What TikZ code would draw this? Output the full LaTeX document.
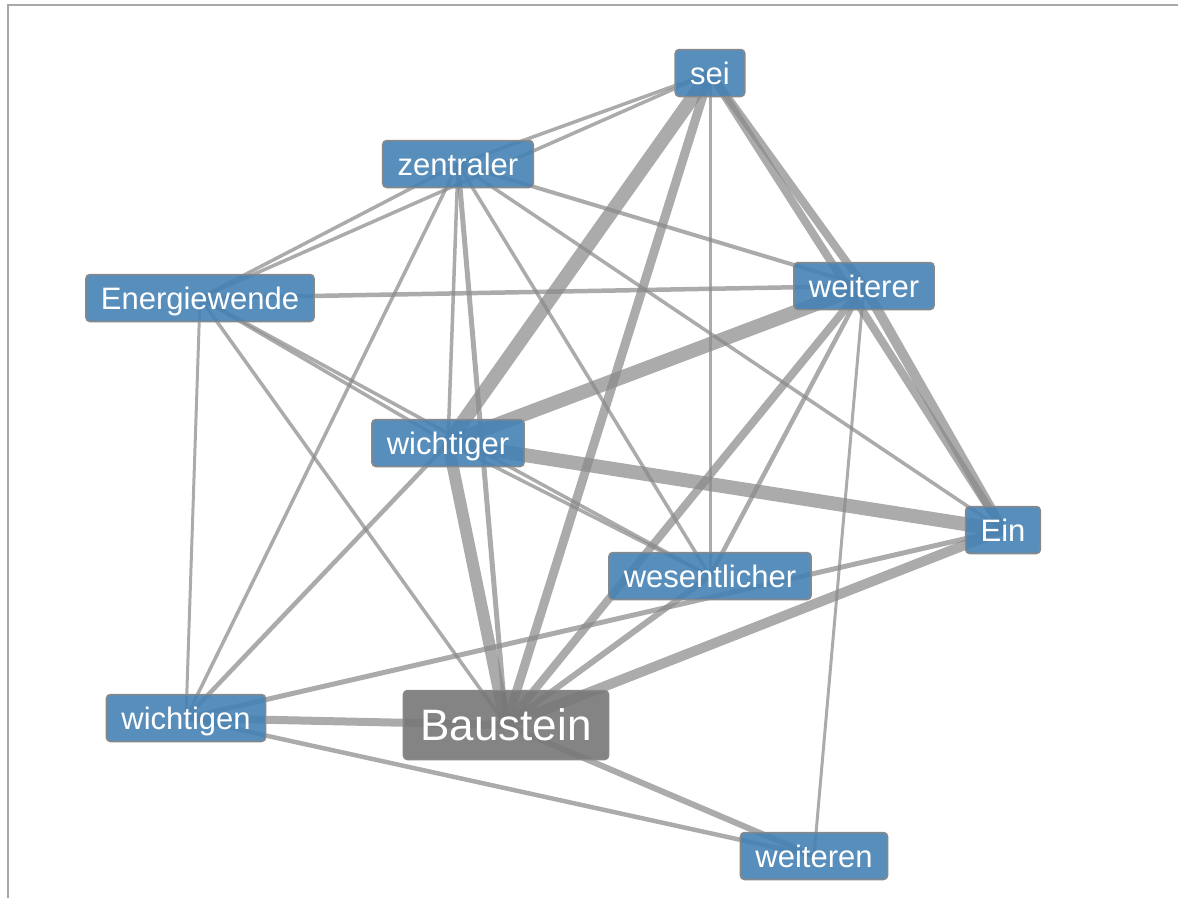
\documentclass[tikz,border=0pt]{standalone}
\usepackage{fontspec}
\setmainfont{Liberation Sans}
\usepackage{tikz}
\usetikzlibrary{backgrounds}
\definecolor{wordblue}   {RGB}{70,  130, 180}
\definecolor{wordgray}   {RGB}{119, 119, 119}
\definecolor{linkgray}   {RGB}{136, 136, 136}
\definecolor{framegray}  {RGB}{168, 168, 168}

\begin{document}
\begin{tikzpicture}[x=1pt,y=-1pt,
	word/.style={draw=linkgray,line width=1.5pt,fill=wordblue,fill opacity=0.9,text opacity=1,
		text=white,rounded corners=4pt,inner xsep=15pt,inner ysep=0pt,minimum height=47pt,
		text height=22pt,text depth=0pt,font=\fontsize{31}{36}\selectfont},
	hub/.style={word,fill=wordgray,inner xsep=17pt,minimum height=69pt,text height=31pt,
		font=\fontsize{44}{50}\selectfont},
	link/.style={draw=linkgray,draw opacity=0.7}]
	\useasboundingbox (0,0) rectangle (1178,898);
	\draw[framegray,line width=2pt] (7.5,898) -- (7.5,5) -- (1178,5);
	\node[word] (sei) at (710,73) {sei};
	\node[word] (zentraler) at (458,164) {zentraler};
	\node[word] (energiewende) at (200,298) {Energiewende};
	\node[word] (weiterer) at (864,286) {weiterer};
	\node[word] (wichtiger) at (448,443) {wichtiger};
	\node[word] (ein) at (1003,530) {Ein};
	\node[word] (wesentlicher) at (710,576) {wesentlicher};
	\node[word] (wichtigen) at (186,718) {wichtigen};
	\node[hub] (baustein) at (506,725) {Baustein};
	\node[word] (weiteren) at (814,856) {weiteren};
	\begin{scope}[on background layer]
		\foreach \a/\b/\w in {sei/zentraler/3.5, sei/energiewende/3.5, sei/wichtiger/14, sei/baustein/9,
			sei/wesentlicher/3, sei/weiterer/8, sei/ein/8,
			zentraler/energiewende/3.5, zentraler/weiterer/4, zentraler/wichtiger/3.5, zentraler/baustein/5,
			zentraler/wichtigen/3.5, zentraler/wesentlicher/3.5, zentraler/ein/3.5,
			energiewende/weiterer/4.5, energiewende/wichtigen/3, energiewende/wichtiger/3.5,
			energiewende/wesentlicher/3.5, energiewende/baustein/3.5,
			wichtiger/weiterer/14, wichtiger/ein/14, wichtiger/baustein/12, wichtiger/wichtigen/4.5,
			wichtiger/wesentlicher/3.5,
			weiterer/ein/10, weiterer/baustein/8, weiterer/wesentlicher/4.5, weiterer/weiteren/3,
			ein/baustein/10, ein/wichtigen/5,
			baustein/wichtigen/8, baustein/wesentlicher/6, baustein/weiteren/6, wichtigen/weiteren/4.5}
		{\draw[link,line width=\w pt] (\a.center) -- (\b.center);}
	\end{scope}
\end{tikzpicture}
\end{document}
